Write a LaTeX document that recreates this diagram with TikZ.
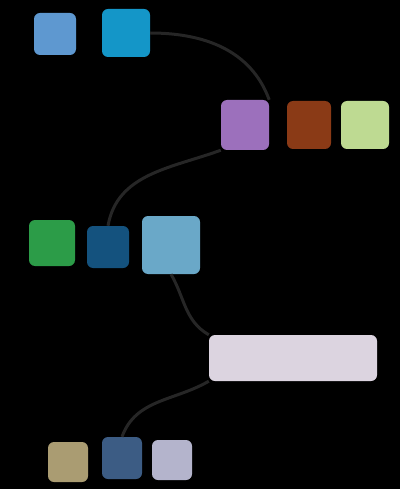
\documentclass[tikz,border=0pt]{standalone}
\usepackage{tikz}
\usetikzlibrary{arrows, calc, positioning}

\definecolor{bgblack}{HTML}{000000}
\definecolor{wireGray}{HTML}{262626}
\definecolor{skyBlue}{HTML}{5E98D0}
\definecolor{cyanBlue}{HTML}{1496C8}
\definecolor{lilac}{HTML}{9C70BC}
\definecolor{rust}{HTML}{8A3A16}
\definecolor{paleGreen}{HTML}{BEDA92}
\definecolor{leafGreen}{HTML}{2C9C48}
\definecolor{deepBlue}{HTML}{14527E}
\definecolor{iceBlue}{HTML}{6AA8C8}
\definecolor{pearl}{HTML}{DCD4E0}
\definecolor{sand}{HTML}{AA9C72}
\definecolor{slate}{HTML}{3C5C84}
\definecolor{mist}{HTML}{B4B4CC}

\tikzset{
    tile/.style={rounded corners=6pt, minimum width=42pt, minimum height=42pt, inner sep=0pt},
    wire/.style={wireGray, line width=3pt}
}

\begin{document}
\begin{tikzpicture}[x=1pt, y=-1pt]
        \fill[bgblack] (0,0) rectangle (400,489);
        
        \node[tile, fill=skyBlue] (a1) at (55,34) {};
        \node[tile, fill=cyanBlue, minimum width=48pt, minimum height=48pt] (a2) at (126,33) {};
        
        \node[tile, fill=lilac, minimum width=48pt, minimum height=50pt] (b1) at (245,125) {};
        \node[tile, fill=rust, minimum width=44pt, minimum height=48pt] (b2) at (309,125) {};
        \node[tile, fill=paleGreen, minimum width=48pt, minimum height=48pt] (b3) at (365,125) {};
        
        \node[tile, fill=leafGreen, minimum width=46pt, minimum height=46pt] (c1) at (52,243) {};
        \node[tile, fill=deepBlue] (c2) at (108,247) {};
        \node[tile, fill=iceBlue, minimum width=58pt, minimum height=58pt] (c3) at (171,245) {};
        
        \node[tile, fill=pearl, minimum width=168pt, minimum height=46pt] (d1) at (293,358) {};
        
        \node[tile, fill=sand, minimum width=40pt, minimum height=40pt] (e1) at (68,462) {};
        \node[tile, fill=slate, minimum width=40pt, minimum height=42pt] (e2) at (122,458) {};
        \node[tile, fill=mist, minimum width=40pt, minimum height=40pt] (e3) at (172,460) {};
        
        \draw[wire] (a2.east) to[out=0, in=110] (b1.north east);
        \draw[wire] (b1.south west) to[out=200, in=80] (c2.north);
        \draw[wire] (c3.south) to[out=-60, in=150] (d1.north west);
        \draw[wire] (d1.south west) to[out=210, in=70] (e2.north);
\end{tikzpicture}
\end{document}
